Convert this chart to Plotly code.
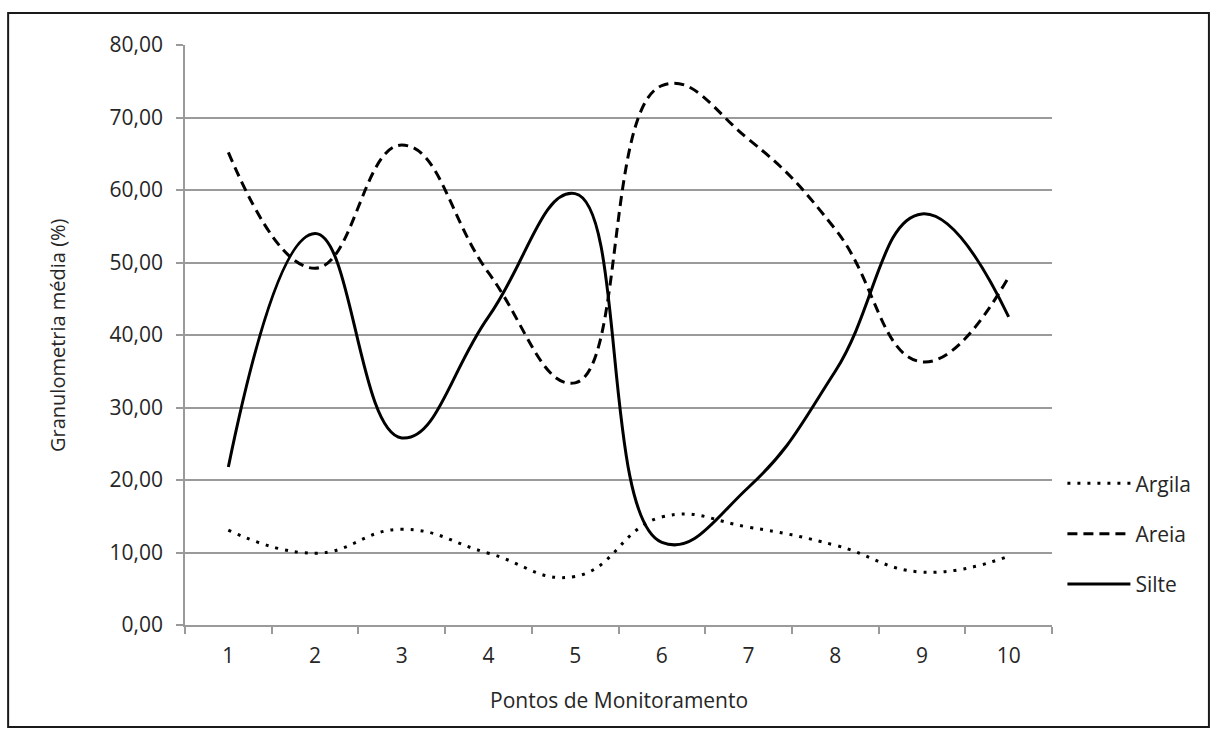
import plotly.graph_objects as go

pontos = ["1", "2", "3", "4", "5", "6", "7", "8", "9", "10"]
argila = [13.1, 9.9, 13.2, 9.9, 6.7, 14.9, 13.5, 11.0, 7.3, 9.5]
areia = [65.2, 49.2, 66.2, 48.6, 33.4, 74.4, 67.0, 54.6, 36.3, 48.0]
silte = [21.8, 54.0, 25.8, 42.5, 59.5, 11.4, 19.0, 35.0, 56.7, 42.5]

y_ticks = [0, 10, 20, 30, 40, 50, 60, 70, 80]

FONT = "Open Sans"
TXT = "#262626"
GRID = "#9a9a9a"

fig = go.Figure()
series = [
    ("Argila", argila, "3px,7px"),
    ("Areia", areia, "10px,6px"),
    ("Silte", silte, "solid"),
]
for name, vals, dash in series:
    fig.add_trace(go.Scatter(
        x=pontos, y=vals, name=name, mode="lines",
        line=dict(color="black", width=3, dash=dash, shape="spline", smoothing=1.3),
        legendgroup=name,
    ))

fig.update_layout(
    width=1211, height=729,
    margin=dict(l=185, r=159, t=45, b=104),
    paper_bgcolor="white", plot_bgcolor="white",
    separators=",.",
    font=dict(family=FONT, size=20, color=TXT),
    showlegend=True,
    legend=dict(
        x=1.012, xanchor="left", y=0.279, yanchor="top",
        traceorder="grouped", tracegroupgap=20,
        itemwidth=63, font=dict(family=FONT, size=21, color=TXT),
        bgcolor="rgba(0,0,0,0)",
    ),
    xaxis=dict(
        type="category", range=[-0.5, 9.5], showgrid=False, showline=True,
        linecolor=GRID, linewidth=1.5,
        ticks="outside", tickson="boundaries", ticklen=7, tickcolor=GRID, tickwidth=1.5,
        tickfont=dict(family=FONT, size=21, color=TXT), ticklabelstandoff=11,
        zeroline=False,
    ),
    yaxis=dict(
        range=[0, 80], tickvals=y_ticks, tickformat=".2f",
        showgrid=True, gridcolor=GRID, gridwidth=1.5,
        showline=True, linecolor=GRID, linewidth=1.5,
        ticks="outside", ticklen=7, tickcolor=GRID, tickwidth=1.5,
        tickfont=dict(family=FONT, size=21, color=TXT), ticklabelstandoff=9,
        zeroline=False,
    ),
    annotations=[
        dict(text="Granulometria média (%)", textangle=-90, xref="paper", yref="paper",
             x=-0.1476, y=0.5, xanchor="center", yanchor="middle", showarrow=False,
             font=dict(family=FONT, size=20, color=TXT)),
        dict(text="Pontos de Monitoramento", xref="paper", yref="paper",
             x=0.5, y=-0.129, xanchor="center", yanchor="middle", showarrow=False,
             font=dict(family=FONT, size=21, color=TXT)),
    ],
    shapes=[
        dict(type="rect", xref="paper", yref="paper", x0=-0.204, x1=1.181, y0=-0.176, y1=1.055,
             line=dict(color="#1a1a1a", width=2), fillcolor="rgba(0,0,0,0)"),
    ],
)

fig.write_html("out.html")
